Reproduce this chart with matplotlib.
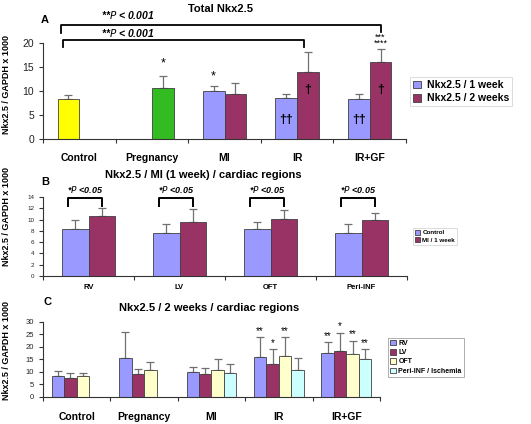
import numpy as np
import matplotlib
matplotlib.use("Agg")
import matplotlib.pyplot as plt
from matplotlib.patches import Patch

plt.rcParams['font.family'] = ['Liberation Sans', 'DejaVu Sans']

# ---------------- data ----------------
catsA = ["Control", "Pregnancy", "MI", "IR", "IR+GF"]
A_week1 = [8.3, np.nan, 10.1, 8.5, 8.3]
A_week1_err = [0.9, np.nan, 0.9, 0.9, 1.0]
A_week2 = [np.nan, 10.6, 9.4, 14.0, 16.0]
A_week2_err = [np.nan, 2.5, 2.3, 4.2, 2.8]
A_legend = ["Nkx2.5 / 1 week", "Nkx2.5 / 2 weeks"]

catsB = ["RV", "LV", "OFT", "Peri-INF"]
B_control = [8.4, 7.7, 8.25, 7.7]
B_control_err = [1.6, 1.6, 1.35, 1.6]
B_mi = [10.6, 9.6, 10.1, 10.0]
B_mi_err = [1.5, 2.2, 1.6, 1.1]
B_legend = ["Control", "MI / 1 week"]

catsC = ["Control", "Pregnancy", "MI", "IR", "IR+GF"]
C_rv = [8.3, 15.3, 10.0, 16.0, 17.3]
C_rv_err = [2.0, 10.4, 1.7, 7.7, 4.4]
C_lv = [7.6, 8.9, 8.9, 13.1, 18.4]
C_lv_err = [1.7, 2.0, 2.7, 5.8, 7.2]
C_oft = [8.3, 10.7, 10.7, 16.3, 16.9]
C_oft_err = [1.3, 3.3, 4.2, 7.4, 5.5]
C_peri = [np.nan, np.nan, 9.3, 10.7, 14.9]
C_peri_err = [np.nan, np.nan, 3.6, 4.6, 4.0]
C_legend = ["RV", "LV", "OFT", "Peri-INF / Ischemia"]
C_stars = {(3, 0): "**", (3, 1): "*", (3, 2): "**",
           (4, 0): "**", (4, 1): "*", (4, 2): "**", (4, 3): "**"}

BLUE = "#9999FF"
PURPLE = "#993366"
YELLOW = "#FFFF00"
GREEN = "#33BB22"
LYELLOW = "#FFFFCC"
LCYAN = "#CCFFFF"
EDGE = "#404040"
ECOL = "#707070"

W, H = 531, 424
fig = plt.figure(figsize=(W / 100, H / 100), dpi=100)


def ax_at(l, r, t, b):
    return fig.add_axes([l / W, 1 - b / H, (r - l) / W, (b - t) / H])


def style(ax, n, labels, lsize, ysize):
    ax.set_xlim(0, n)
    for s in ["top", "right"]:
        ax.spines[s].set_visible(False)
    for s in ["left", "bottom"]:
        ax.spines[s].set_color("#333333")
        ax.spines[s].set_linewidth(0.8)
    ax.set_xticks(np.arange(n + 1))
    ax.set_xticklabels([])
    ax.set_xticks(np.arange(n) + 0.5, minor=True)
    ax.set_xticklabels(labels, minor=True, fontsize=lsize, fontweight="bold")
    ax.tick_params(axis="x", which="minor", length=0, pad=9)
    ax.tick_params(axis="x", which="major", length=3, direction="out", color="#333333")
    ax.tick_params(axis="y", labelsize=ysize, length=3, color="#333333", labelcolor="#222222")


def bars(ax, x, vals, errs, color, width):
    ax.bar(x, vals, width, color=color, edgecolor=EDGE, linewidth=0.6, zorder=2)
    v = np.array(vals, float)
    e = np.array(errs, float)
    ax.errorbar(x, v, yerr=[np.zeros_like(e), e], fmt="none", ecolor=ECOL,
                elinewidth=0.9, capsize=3, capthick=0.9, zorder=1)


# ---------------- Panel A ----------------
axA = ax_at(43, 406, 43, 139)
axA.set_ylim(0, 20)
axA.set_yticks([0, 5, 10, 15, 20])
style(axA, 5, catsA, 7.5, 7.5)
cA = np.arange(5) + 0.5
wA = 0.3
xA1 = cA - wA / 2
xA2 = cA + wA / 2
col1 = [YELLOW, BLUE, BLUE, BLUE, BLUE]
col2 = [PURPLE, GREEN, PURPLE, PURPLE, PURPLE]
bars(axA, xA1, A_week1, A_week1_err, col1, wA)
bars(axA, xA2, A_week2, A_week2_err, col2, wA)
axA.tick_params(axis="x", which="minor", pad=10)

# brackets
def bracket(ax, x0, x1, ytop, yl, yr, lw=1.3):
    ax.plot([x0, x0, x1, x1], [yl, ytop, ytop, yr], color="black", lw=lw,
            clip_on=False, zorder=5)

bracket(axA, xA1[0] - 0.1, xA2[4], 23.75, 22.1, 22.3)
bracket(axA, xA1[0] - 0.07, xA2[3] - 0.05, 20.6, 19.2, 19.2)
axA.text(0.8, 25.9, "**$\\bf\\it{P}$ < 0.001", fontsize=7.5, fontweight="bold",
         style="italic", ha="left", va="center", clip_on=False)
axA.text(0.8, 22.0, "**$\\bf\\it{P}$ < 0.001", fontsize=7.5, fontweight="bold",
         style="italic", ha="left", va="center", clip_on=False)
axA.text(xA2[1], 14.4, "*", fontsize=9, ha="center", va="bottom")
axA.text(xA1[2], 11.8, "*", fontsize=9, ha="center", va="bottom")
axA.text(xA2[4], 19.0, "***\n****", fontsize=6.5, ha="center", va="bottom",
         linespacing=0.55, clip_on=False)
for i in (3, 4):
    axA.text(xA1[i], 4.0, "††", fontsize=9, fontweight="bold", ha="center", va="center")
    axA.text(xA2[i], 10.2, "†", fontsize=9, fontweight="bold", ha="center", va="center")

legA = axA.legend([Patch(facecolor=BLUE, edgecolor=EDGE, lw=0.6),
                   Patch(facecolor=PURPLE, edgecolor=EDGE, lw=0.6)], A_legend,
                  loc="upper left", bbox_to_anchor=(410 / W, 1 - 77 / H),
                  bbox_transform=fig.transFigure,
                  prop={"weight": "bold", "size": 7.5}, frameon=True, fancybox=False,
                  handlelength=0.8, handleheight=0.8, handletextpad=0.5,
                  borderpad=0.3, labelspacing=0.3, borderaxespad=0)
legA.get_frame().set_edgecolor("#cccccc")
legA.get_frame().set_linewidth(0.6)

fig.text(221 / W, 1 - 9 / H, "Total Nkx2.5", fontsize=8, fontweight="bold",
         ha="center", va="center")
fig.text(45 / W, 1 - 20 / H, "A", fontsize=8, fontweight="bold", ha="center", va="center")

# ---------------- Panel B ----------------
axB = ax_at(43, 407, 197, 276)
axB.set_ylim(0, 14)
axB.set_yticks(np.arange(0, 15, 2))
style(axB, 4, catsB, 5.5, 4.5)
axB.tick_params(axis="x", which="minor", pad=6)
cB = np.arange(4) + 0.5
wB = 0.29
xB1 = cB - wB / 2
xB2 = cB + wB / 2
bars(axB, xB1, B_control, B_control_err, BLUE, wB)
bars(axB, xB2, B_mi, B_mi_err, PURPLE, wB)
for i in range(4):
    bracket(axB, xB1[i] - 0.08, xB2[i], 13.8, 12.4, 12.4, lw=1.4)
    axB.text((xB1[i] + xB2[i]) / 2 - 0.04, 15.4, "*$\\bf\\it{P}$ <0.05", fontsize=6.5,
             fontweight="bold", style="italic", ha="center", va="center", clip_on=False)
legB = axB.legend([Patch(facecolor=BLUE, edgecolor=EDGE, lw=0.6),
                   Patch(facecolor=PURPLE, edgecolor=EDGE, lw=0.6)], B_legend,
                  loc="upper left", bbox_to_anchor=(413 / W, 1 - 228 / H),
                  bbox_transform=fig.transFigure,
                  prop={"weight": "bold", "size": 4.5}, frameon=True, fancybox=False,
                  handlelength=0.8, handleheight=0.8, handletextpad=0.4,
                  borderpad=0.3, labelspacing=0.3, borderaxespad=0)
legB.get_frame().set_edgecolor("#cccccc")
legB.get_frame().set_linewidth(0.6)
fig.text(203 / W, 1 - 175 / H, "Nkx2.5 / MI (1 week) / cardiac regions", fontsize=8,
         fontweight="bold", ha="center", va="center")
fig.text(45 / W, 1 - 182 / H, "B", fontsize=8, fontweight="bold", ha="center", va="center")

# ---------------- Panel C ----------------
axC = ax_at(43, 380, 321.7, 396.7)
axC.set_ylim(0, 30)
axC.set_yticks(np.arange(0, 31, 5))
style(axC, 5, catsC, 7.5, 5.5)
axC.tick_params(axis="x", which="minor", pad=11)
cC = np.arange(5) + 0.5
wC = 0.185
seriesC = [(C_rv, C_rv_err, BLUE), (C_lv, C_lv_err, PURPLE),
           (C_oft, C_oft_err, LYELLOW), (C_peri, C_peri_err, LCYAN)]
xsC = []
for k, (v, e, c) in enumerate(seriesC):
    x = cC + (k - 1.5) * wC
    xsC.append(x)
    bars(axC, x, v, e, c, wC)
for (i, k), s in C_stars.items():
    top = seriesC[k][0][i] + seriesC[k][1][i]
    axC.text(xsC[k][i], top + 0.6, s, fontsize=7, ha="center", va="bottom", clip_on=False)
legC = axC.legend([Patch(facecolor=c, edgecolor=EDGE, lw=0.6) for _, _, c in seriesC],
                  C_legend, loc="upper left", bbox_to_anchor=(388 / W, 1 - 338 / H),
                  bbox_transform=fig.transFigure,
                  prop={"weight": "bold", "size": 5}, frameon=True, fancybox=False,
                  handlelength=0.8, handleheight=0.8, handletextpad=0.4,
                  borderpad=0.3, labelspacing=0.3, borderaxespad=0)
legC.get_frame().set_edgecolor("#888888")
legC.get_frame().set_linewidth(0.6)
fig.text(209 / W, 1 - 308 / H, "Nkx2.5 / 2 weeks / cardiac regions", fontsize=8,
         fontweight="bold", ha="center", va="center")
fig.text(48 / W, 1 - 302 / H, "C", fontsize=8, fontweight="bold", ha="center", va="center")

# y labels
for yc in (85, 217, 350):
    fig.text(7 / W, 1 - yc / H, "Nkx2.5 / GAPDH x 1000", rotation=90, fontsize=6.5,
             fontweight="bold", ha="center", va="center")

fig.savefig("out.png", dpi=100)
